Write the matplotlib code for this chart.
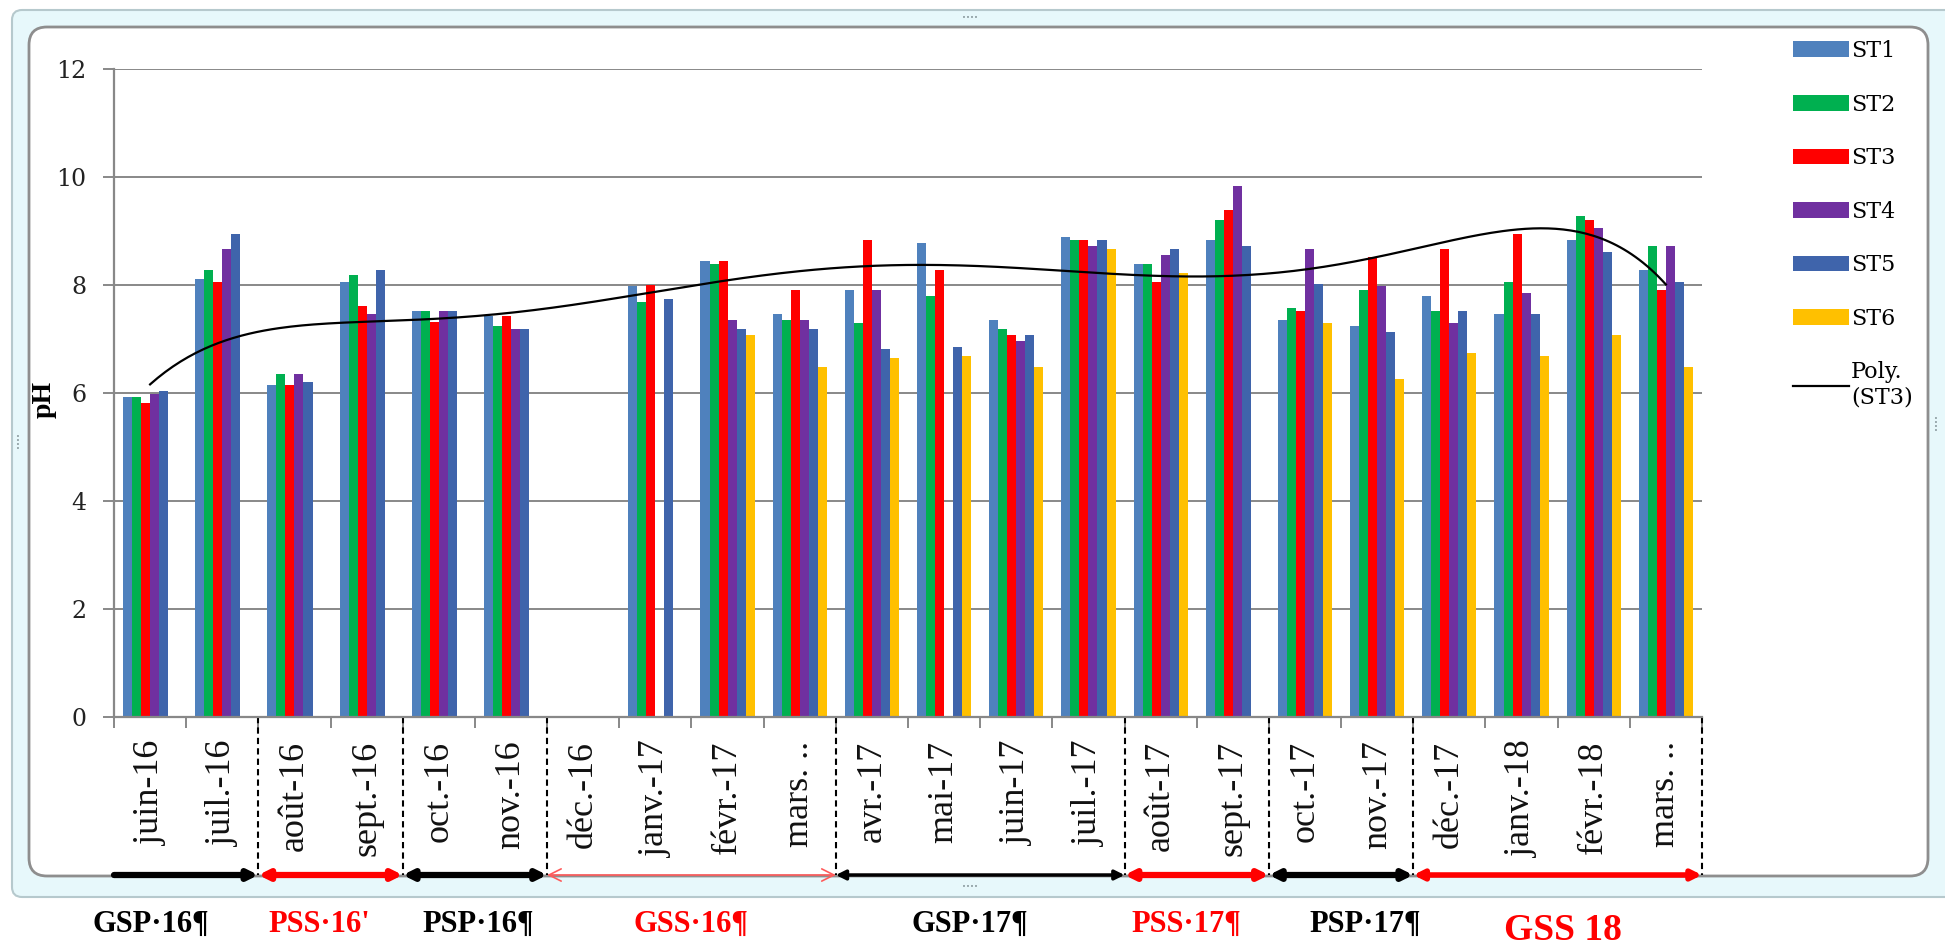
import numpy as np
import matplotlib.pyplot as plt
from matplotlib.patches import FancyBboxPatch
from matplotlib.transforms import IdentityTransform, blended_transform_factory

nan = np.nan
mois = ['juin-16', 'juil.-16', 'août-16', 'sept.-16', 'oct.-16', 'nov.-16',
        'déc.-16', 'janv.-17', 'févr.-17', 'mars. ..', 'avr.-17', 'mai-17',
        'juin-17', 'juil.-17', 'août-17', 'sept.-17', 'oct.-17', 'nov.-17',
        'déc.-17', 'janv.-18', 'févr.-18', 'mars. ..']
st1 = [5.92, 8.12, 6.14, 8.06, 7.51, 7.43, nan, 7.98, 8.45, 7.46, 7.90, 8.78,
       7.35, 8.89, 8.39, 8.83, 7.35, 7.25, 7.80, 7.46, 8.83, 8.28]
st2 = [5.92, 8.28, 6.36, 8.18, 7.51, 7.24, nan, 7.69, 8.39, 7.35, 7.30, 7.80,
       7.18, 8.83, 8.39, 9.21, 7.57, 7.90, 7.51, 8.06, 9.27, 8.72]
st3 = [5.82, 8.06, 6.15, 7.62, 7.31, 7.42, nan, 8.00, 8.45, 7.90, 8.83, 8.28,
       7.08, 8.83, 8.06, 9.38, 7.51, 8.51, 8.67, 8.95, 9.21, 7.90]
st4 = [5.99, 8.67, 6.36, 7.46, 7.51, 7.18, nan, nan, 7.35, 7.35, 7.90, nan,
       6.97, 8.72, 8.56, 9.83, 8.67, 7.98, 7.30, 7.85, 9.06, 8.72]
st5 = [6.03, 8.95, 6.20, 8.28, 7.51, 7.18, nan, 7.75, 7.18, 7.18, 6.81, 6.86,
       7.08, 8.83, 8.67, 8.72, 8.01, 7.13, 7.51, 7.46, 8.62, 8.06]
st6 = [nan, nan, nan, nan, nan, nan, nan, nan, 7.08, 6.48, 6.64, 6.69,
       6.48, 8.67, 8.23, nan, 7.30, 6.26, 6.75, 6.69, 7.08, 6.48]
stations = ['ST1', 'ST2', 'ST3', 'ST4', 'ST5', 'ST6']
couleurs = ['#4f81bd', '#00b050', '#ff0000', '#7030a0', '#3f64ab', '#ffc000']

# saisons : (nom, premier mois, dernier mois, couleur, style fleche, epaisseur, x du texte)
saisons = [
    ('GSP·16¶', 0, 1, 'black', '-|>', 4.5, 0.01),
    ("PSS·16'", 2, 3, 'red', '<|-|>', 4.5, 2.34),
    ('PSP·16¶', 4, 5, 'black', '<|-|>', 4.5, 4.54),
    ('GSS·16¶', 6, 9, '#ff5a5a', '<->', 1.2, 7.49),
    ('GSP·17¶', 10, 13, 'black', '<|-|>', 2.5, 11.36),
    ('PSS·17¶', 14, 15, 'red', '<|-|>', 4.5, 14.36),
    ('PSP·17¶', 16, 17, 'black', '<|-|>', 4.5, 16.84),
    ('GSS 18', 18, 21, 'red', '<|-|>', 4.0, 19.58),
]

W, H = 1945, 949
fig = plt.figure(figsize=(W / 100, H / 100), dpi=100)

# cadre du graphique Excel (coordonnees en pixels)
px = IdentityTransform()
fig.add_artist(FancyBboxPatch((12, H - 897), W + 20, 887, boxstyle='round,pad=0,rounding_size=10',
                              fc='#e7f8fb', ec='#b6c9cd', lw=1.5, transform=px, zorder=-10))
fig.add_artist(FancyBboxPatch((29, H - 876), 1928 - 29, 876 - 27, boxstyle='round,pad=0,rounding_size=18',
                              fc='white', ec='#8e8e8e', lw=2, transform=px, zorder=-9))
for x, y, rot in [(970, H - 18, 0), (970, H - 887, 0), (19, H - 440, 90), (1937, H - 422, 90)]:
    fig.text(x, y, '••••', transform=px, fontsize=5, color='#8a9a9e', ha='center', va='center', rotation=rot)

x0, x1, ytop, y0 = 114, 1702, 69, 717
ax = fig.add_axes([x0 / W, (H - y0) / H, (x1 - x0) / W, (y0 - ytop) / H])
ax.set_facecolor('none')

x = np.arange(len(mois))
series = [st1, st2, st3, st4, st5, st6]
larg = 0.125
for i, (vals, nom, c) in enumerate(zip(series, stations, couleurs)):
    ax.bar(x - 0.3125 + i * larg, vals, width=larg, color=c, label=nom, zorder=2)

# courbe de tendance polynomiale sur ST3
y3 = np.array(st3)
ok = ~np.isnan(y3)
coef = np.polyfit(x[ok] + 1, y3[ok], 6)
xs = np.linspace(0, len(mois) - 1, 400)
ax.plot(xs, np.polyval(coef, xs + 1), color='black', lw=1.6, label='Poly.\n(ST3)', zorder=3)

ax.set_xlim(-0.5, len(mois) - 0.5)
ax.set_ylim(0, 12)
ax.set_yticks(np.arange(0, 13, 2))
ax.yaxis.grid(True, color='#888888', lw=1.4)
ax.set_axisbelow(True)
for s in ['top', 'right']:
    ax.spines[s].set_visible(False)
for s in ['left', 'bottom']:
    ax.spines[s].set_color('#888888')
    ax.spines[s].set_linewidth(1.6)

ax.set_xticks(x)
ax.set_xticklabels(mois, rotation=90, fontfamily='Liberation Serif', fontsize=26, color='#111111')
ax.tick_params(axis='x', which='major', length=0, pad=17)
ax.set_xticks(np.arange(-0.5, len(mois), 1), minor=True)
ax.tick_params(axis='x', which='minor', length=8, width=1.4, color='#888888')
ax.tick_params(axis='y', length=8, width=1.4, color='#888888', pad=12)
for t in ax.get_yticklabels():
    t.set_fontfamily('DejaVu Serif')
    t.set_fontsize(17)
    t.set_color('#222222')

ax.set_ylabel('pH', fontfamily='Liberation Serif', fontweight='bold', fontsize=20)
ax.yaxis.set_label_coords(-0.036, 0.49)

# limites des saisons et fleches sous l'axe
tr = blended_transform_factory(ax.transData, ax.transAxes)
yfl = (y0 - 875) / (y0 - ytop)
for nom, a, b, c, style, lw, xt in saisons:
    if a > 0:
        ax.plot([a - 0.5, a - 0.5], [0, yfl], transform=tr, clip_on=False,
                color='black', ls=(0, (3, 2)), lw=1.5)
    ax.annotate('', xy=(b + 0.5, yfl), xytext=(a - 0.5, yfl), xycoords=tr, textcoords=tr,
                annotation_clip=False,
                arrowprops=dict(arrowstyle=style, color=c, lw=lw, shrinkA=0, shrinkB=0,
                                mutation_scale=22 if lw < 2 else 14))
    big = nom == 'GSS 18'
    ax.text(xt, (y0 - (930 if big else 924)) / (y0 - ytop), nom, transform=tr,
            ha='center', va='center', fontfamily='Liberation Serif', fontweight='bold',
            fontsize=27 if big else 22, color='red' if c != 'black' else 'black')
ax.plot([len(mois) - 0.5] * 2, [0, yfl], transform=tr, clip_on=False,
        color='black', ls=(0, (3, 2)), lw=1.5)

handles, labels = ax.get_legend_handles_labels()
handles = handles[1:] + handles[:1]
labels = labels[1:] + labels[:1]
ax.legend(handles, labels, loc='upper left', bbox_to_anchor=(1793 / W, 1 - 40 / H),
          bbox_transform=fig.transFigure, frameon=False, prop={'family': 'DejaVu Serif', 'size': 16},
          handlelength=2.5, handletextpad=0.1, labelspacing=1.42, borderpad=0, borderaxespad=0)

fig.savefig('out.png', dpi=100, facecolor='white')
